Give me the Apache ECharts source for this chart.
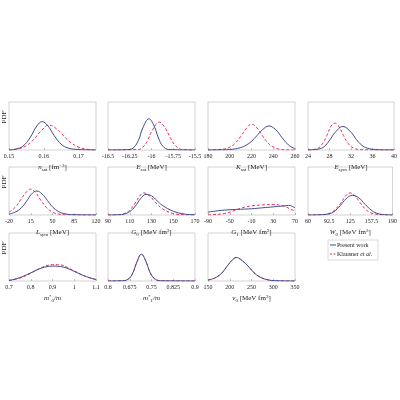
<!DOCTYPE html>
<html>
<head>
<meta charset="UTF-8">
<script src="https://cdn.jsdelivr.net/npm/echarts@6/dist/echarts.min.js"></script>
<style>html,body{margin:0;background:#fff}#c{width:400px;height:400px}</style>
</head>
<body>
<div id="c"></div>
<script>
// panel names, axis ranges, tick steps
var names = ['nsat', 'Esat', 'Ksat', 'Esym', 'Lsym', 'G0', 'G1', 'W0', 'm0', 'm1', 'v0'];
var xMin = [0.15, -16.5, 180, 24, -20, 90, -90, 60, 0.7, 0.6, 150];
var xMax = [0.175, -15.5, 260, 40, 120, 170, 70, 190, 1.1, 0.9, 350];
var xStep = [0.01, 0.25, 20, 4, 35, 20, 40, 32.5, 0.1, 0.075, 50];
var titles = [
  '{i|n}{s|sat} [fm{p|−3}]', '{i|E}{s|sat} [MeV]', '{i|K}{s|sat} [MeV]', '{i|E}{s|sym} [MeV]',
  '{i|L}{s|sym} [MeV]', '{i|G}{s|0} [MeV fm{p|3}]', '{i|G}{s|1} [MeV fm{p|3}]', '{i|W}{s|0} [MeV fm{p|3}]',
  '{i|m}{p|*}{s|0}{i|/m}', '{i|m}{p|*}{s|1}{i|/m}', '{i|v}{s|0} [MeV fm{p|3}]'
];

// present work (blue) curves, [x, pdf]
var blue = [
  [[0.150,0],[0.152,0.02],[0.154,0.08],[0.156,0.25],[0.158,0.50],[0.1595,0.59],[0.161,0.52],[0.163,0.30],[0.165,0.12],[0.167,0.04],[0.170,0.01],[0.175,0]],
  [[-16.5,0],[-16.25,0.01],[-16.2,0.06],[-16.15,0.2],[-16.1,0.46],[-16.03,0.65],[-15.97,0.5],[-15.92,0.25],[-15.87,0.08],[-15.8,0.01],[-15.5,0]],
  [[180,0],[200,0.01],[210,0.05],[215,0.1],[220,0.18],[225,0.3],[230,0.42],[236,0.5],[242,0.43],[248,0.26],[252,0.15],[256,0.07],[260,0.03]],
  [[24,0],[26,0.02],[27,0.07],[28,0.2],[29,0.36],[30.5,0.49],[32,0.37],[33,0.22],[34,0.1],[35,0.04],[36.5,0.01],[40,0]],
  [[-20,0.02],[-10,0.06],[0,0.15],[10,0.32],[18,0.46],[25,0.5],[33,0.44],[42,0.3],[50,0.17],[60,0.07],[70,0.025],[85,0.005],[120,0]],
  [[90,0],[100,0.005],[105,0.02],[110,0.07],[115,0.18],[120,0.34],[125,0.43],[130,0.4],[135,0.3],[140,0.2],[150,0.08],[160,0.02],[170,0.005]],
  [[-90,0.06],[-70,0.09],[-50,0.11],[-30,0.12],[-10,0.13],[10,0.15],[30,0.17],[50,0.19],[58,0.2],[65,0.18],[70,0.15]],
  [[60,0],[80,0.005],[92.5,0.025],[100,0.07],[110,0.2],[118,0.33],[128,0.41],[138,0.36],[148,0.22],[157.5,0.1],[165,0.04],[175,0.01],[190,0]],
  [[0.7,0.01],[0.75,0.07],[0.8,0.17],[0.85,0.27],[0.9,0.31],[0.95,0.29],[1.0,0.2],[1.05,0.1],[1.1,0.03]],
  [[0.6,0],[0.65,0.005],[0.67,0.04],[0.685,0.16],[0.7,0.4],[0.715,0.56],[0.73,0.42],[0.745,0.18],[0.76,0.05],[0.78,0.005],[0.9,0]],
  [[150,0.02],[165,0.06],[180,0.15],[195,0.32],[205,0.43],[215,0.49],[225,0.45],[240,0.33],[255,0.18],[270,0.08],[290,0.02],[310,0.005],[350,0]]
];
// Klausner et al. (red dashed)
var red = [
  [[0.150,0],[0.153,0.03],[0.155,0.09],[0.157,0.21],[0.159,0.38],[0.1615,0.52],[0.164,0.42],[0.166,0.27],[0.168,0.14],[0.170,0.06],[0.172,0.02],[0.175,0]],
  [[-16.5,0],[-16.15,0.01],[-16.1,0.06],[-16.05,0.18],[-16.0,0.38],[-15.91,0.58],[-15.84,0.45],[-15.78,0.24],[-15.72,0.08],[-15.65,0.01],[-15.5,0]],
  [[180,0],[195,0.02],[200,0.06],[205,0.14],[210,0.28],[215,0.44],[220,0.54],[225,0.46],[230,0.3],[235,0.15],[240,0.06],[245,0.02],[250,0.005],[260,0]],
  [[24,0],[25.5,0.02],[26.5,0.1],[27.5,0.3],[28.3,0.5],[29,0.56],[29.8,0.48],[30.6,0.3],[31.5,0.13],[32.5,0.04],[34,0.005],[40,0]],
  [[-20,0.06],[-10,0.16],[0,0.34],[8,0.48],[15,0.54],[22,0.48],[30,0.33],[40,0.16],[50,0.06],[60,0.02],[70,0.005],[120,0]],
  [[90,0],[100,0.005],[105,0.03],[110,0.1],[115,0.25],[120,0.42],[123,0.46],[128,0.4],[133,0.28],[140,0.13],[150,0.03],[160,0.005],[170,0]],
  [[-90,0],[-75,0.01],[-60,0.03],[-50,0.06],[-40,0.1],[-30,0.14],[-20,0.17],[-10,0.19],[10,0.21],[30,0.22],[45,0.2],[55,0.16],[62,0.12],[70,0.08]],
  [[60,0],[80,0.005],[92.5,0.03],[100,0.09],[110,0.24],[118,0.4],[125,0.46],[132,0.4],[140,0.26],[150,0.1],[160,0.03],[175,0.005],[190,0]],
  [[0.7,0.01],[0.75,0.06],[0.8,0.16],[0.85,0.28],[0.9,0.34],[0.93,0.34],[0.97,0.28],[1.0,0.21],[1.05,0.1],[1.1,0.03]],
  [[0.6,0],[0.65,0.005],[0.67,0.04],[0.685,0.16],[0.7,0.4],[0.715,0.56],[0.73,0.42],[0.745,0.18],[0.76,0.05],[0.78,0.005],[0.9,0]],
  [[150,0.02],[165,0.06],[180,0.15],[195,0.32],[205,0.43],[215,0.49],[225,0.45],[240,0.33],[255,0.18],[270,0.08],[290,0.02],[310,0.005],[350,0]]
];

var colLeft = [9, 108, 208, 308];
var rowTop = [102, 167, 233];
var W = 87, H = 48;
var FONT = 'Liberation Serif';
var BLUE = '#3e4a89', RED = '#e8305a';

var grids = [], xAxes = [], yAxes = [], series = [], graphic = [];
names.forEach(function (n, i) {
  var r = Math.floor(i / 4), c = i % 4;
  grids.push({left: colLeft[c], top: rowTop[r], width: W, height: H, show: true,
    borderColor: '#c8c8c8', borderWidth: 0.8, backgroundColor: 'transparent'});
  xAxes.push({type: 'value', gridIndex: i, min: xMin[i], max: xMax[i], interval: xStep[i],
    name: titles[i], nameLocation: 'middle', nameGap: 13,
    nameTextStyle: {fontFamily: FONT, fontSize: 7, color: '#222',
      rich: {i: {fontFamily: FONT, fontStyle: 'italic', fontSize: 7},
             s: {fontFamily: FONT, fontSize: 5, padding: [4, 0, 0, 0]},
             p: {fontFamily: FONT, fontSize: 5, padding: [0, 0, 4, 0]}}},
    axisLine: {show: false}, splitLine: {show: false},
    axisTick: {inside: true, length: 2, lineStyle: {color: '#999', width: 0.6}},
    axisLabel: {fontFamily: FONT, fontSize: 6, color: '#222', margin: 3,
      showMaxLabel: i === 0 ? false : true,
      formatter: function (v) { return String(+v.toFixed(4)); }}});
  yAxes.push({type: 'value', gridIndex: i, min: 0, max: 1, show: false});
  series.push({type: 'line', xAxisIndex: i, yAxisIndex: i, data: red[i], smooth: 0.4,
    showSymbol: false, lineStyle: {color: RED, width: 1, type: [3, 2]}, z: 2});
  series.push({type: 'line', xAxisIndex: i, yAxisIndex: i, data: blue[i], smooth: 0.4,
    showSymbol: false, lineStyle: {color: BLUE, width: 1}, z: 3});
});
rowTop.forEach(function (t) {
  graphic.push({type: 'text', x: 4, y: t + 15, rotation: Math.PI / 2,
    style: {text: 'PDF', font: '7px "' + FONT + '"', fill: '#222', align: 'center', verticalAlign: 'middle'}});
});
// legend box
graphic.push({type: 'rect', shape: {x: 328, y: 240, width: 50, height: 20},
  style: {fill: '#fff', stroke: '#ccc', lineWidth: 0.7}});
graphic.push({type: 'line', shape: {x1: 330, y1: 245, x2: 336, y2: 245}, style: {stroke: BLUE, lineWidth: 1}});
graphic.push({type: 'line', shape: {x1: 330, y1: 254, x2: 336, y2: 254}, style: {stroke: RED, lineWidth: 1, lineDash: [2, 1.5]}});
graphic.push({type: 'text', x: 337, y: 245, style: {text: 'Present work', font: '6px "' + FONT + '"', fill: '#222', verticalAlign: 'middle'}});
graphic.push({type: 'text', x: 337, y: 254, style: {text: 'Klausner {e|et al.}', font: '6px "' + FONT + '"', fill: '#222', verticalAlign: 'middle',
  rich: {e: {fontFamily: FONT, fontStyle: 'italic', fontSize: 6}}}});

var chart = echarts.init(document.getElementById('c'));
chart.setOption({animation: false, grid: grids, xAxis: xAxes, yAxis: yAxes, series: series, graphic: graphic});
</script>
</body>
</html>
